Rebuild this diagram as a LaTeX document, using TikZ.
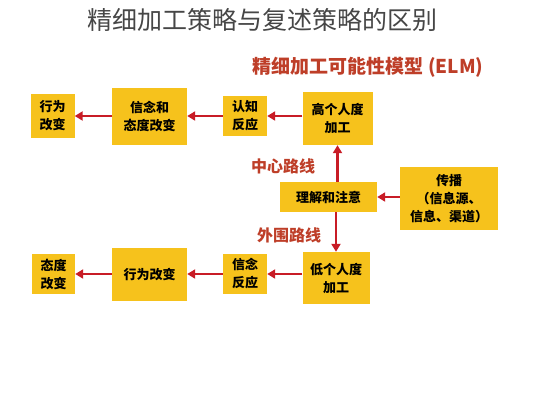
\documentclass[tikz,border=0pt]{standalone}
\usepackage{fontspec}
\setmainfont{Noto Sans CJK SC}
\usepackage{tikz}
\usetikzlibrary{positioning,calc,arrows.meta}
\definecolor{ELMYellow}{RGB}{246,194,28}
\definecolor{ELMRed}{RGB}{200,28,38}
\definecolor{ELMBrown}{RGB}{190,62,40}
\definecolor{TitleGray}{RGB}{70,70,70}

\begin{document}
\begin{tikzpicture}[
        x=1pt, y=-1pt,
        % Style cho hộp: nền vàng, chữ đen đậm
        boxnode/.style={
            rectangle,
            fill=ELMYellow,
            draw=none,
            align=center,
            inner sep=0pt,
            font=\bfseries\fontsize{13}{18}\selectfont
        },
        flowarrow/.style={draw=ELMRed, line width=2.6pt, -{Triangle[length=8pt,width=9pt]}},
        routelabel/.style={text=ELMBrown, font=\bfseries\fontsize{16}{18}\selectfont}
    ]
    \useasboundingbox (0,0) rectangle (533,400);

    % --- TIÊU ĐỀ ---
    \node[text=TitleGray, font=\fontsize{25}{28}\selectfont] (title) at (262,20) {精细加工策略与复述策略的区别};
    \node[text=ELMBrown, font=\bfseries\fontsize{19}{22}\selectfont] (model) at (368,67) {精细加工可能性模型 (ELM)};

    % --- HÀNG TRÊN: đường trung tâm ---
    \node[boxnode, minimum width=44pt, minimum height=44pt] (act1) at (52.5,116) {行为\\改变};
    \node[boxnode, minimum width=75pt, minimum height=57pt] (belief1) at (149.5,116) {信念和\\态度改变};
    \node[boxnode, minimum width=44pt, minimum height=40pt] (cogn1) at (245,116) {认知\\反应};
    \node[boxnode, minimum width=70pt, minimum height=53pt] (high) at (337.5,118.5) {高个人度\\加工};

    % --- HÀNG GIỮA ---
    \node[boxnode, minimum width=97pt, minimum height=30pt] (attend) at (328.5,197) {理解和注意};
    \node[boxnode, minimum width=98pt, minimum height=63pt] (comm) at (449,198.5) {传播\\（信息源、\\信息、渠道）};
    \node[routelabel] (central) at (283,166) {中心路线};
    \node[routelabel] (periph) at (289,235) {外围路线};

    % --- HÀNG DƯỚI: đường ngoại vi ---
    \node[boxnode, minimum width=43pt, minimum height=40pt] (att2) at (53.5,274) {态度\\改变};
    \node[boxnode, minimum width=75pt, minimum height=53pt] (act2) at (149.5,274) {行为改变};
    \node[boxnode, minimum width=44pt, minimum height=40pt] (cogn2) at (245,274) {信念\\反应};
    \node[boxnode, minimum width=67pt, minimum height=52pt] (low) at (336,278) {低个人度\\加工};

    % --- MŨI TÊN ---
    \draw[flowarrow] (high.west |- cogn1) -- (cogn1.east);
    \draw[flowarrow] (cogn1) -- (belief1);
    \draw[flowarrow] (belief1) -- (act1);
    \draw[flowarrow] (comm.west |- attend) -- (attend.east);
    \draw[flowarrow] (attend.north -| high.south) -- (high.south);
    \draw[flowarrow] (attend.south -| low.north) -- (low.north);
    \draw[flowarrow] (low.west |- cogn2) -- (cogn2.east);
    \draw[flowarrow] (cogn2) -- (act2);
    \draw[flowarrow] (act2) -- (att2);

\end{tikzpicture}
\end{document}
